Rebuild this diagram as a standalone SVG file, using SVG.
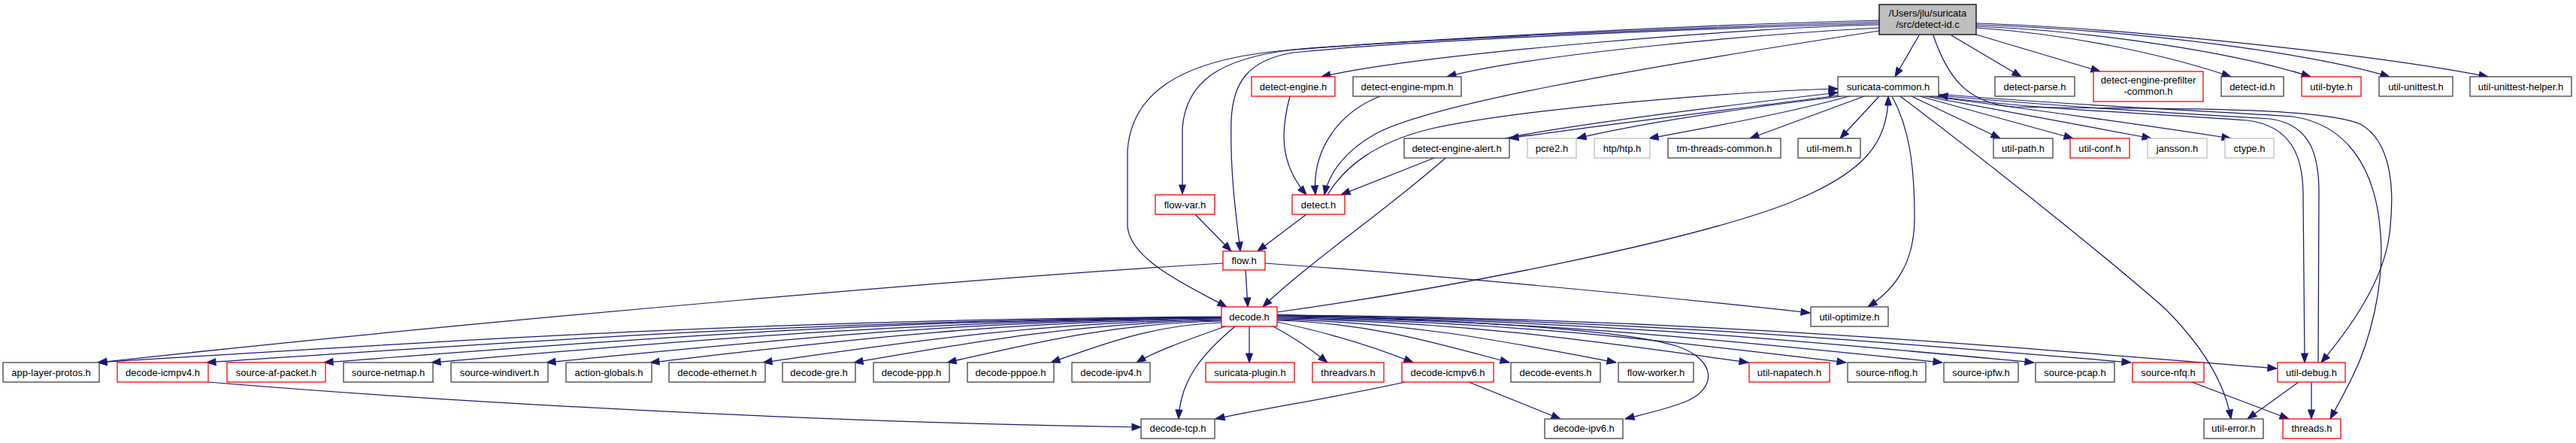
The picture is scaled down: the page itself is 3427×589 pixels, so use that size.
<svg xmlns="http://www.w3.org/2000/svg" width="3427" height="589" viewBox="0 0 3427 589">
<style>
.n rect{fill:#fff;stroke:#404040;stroke-width:1.3}
.r rect{fill:#fff;stroke:#ff0000;stroke-width:1.3}
.g rect{fill:#fff;stroke:#bfbfbf;stroke-width:1.3}
.t rect{fill:#bfbfbf;stroke:#000;stroke-width:1.3}
text{font-family:"Liberation Sans",Arial,Helvetica,sans-serif;font-size:13px;text-anchor:middle;fill:#000}
#edges path{fill:none;stroke:#191970;stroke-width:1.25;marker-end:url(#ah)}
</style>
<defs>
<marker id="ah" markerWidth="12" markerHeight="9" refX="12" refY="4.5" orient="auto" markerUnits="userSpaceOnUse" overflow="visible">
<path d="M0,0 L12,4.5 L0,9 z" fill="#191970" stroke="#191970" stroke-width="1"/>
</marker>
</defs>
<rect x="0" y="0" width="3427" height="589" fill="#fff"/>
<g id="edges">
<path d="M2553,47 L2521,102"/>
<path d="M2596,47 L2689,102"/>
<path d="M2629,46 L2794,95"/>
<path d="M2629,37 C2750,45 2880,72 2968,102"/>
<path d="M2629,35 C2800,42 2980,72 3074,102"/>
<path d="M2629,33 C2850,40 3080,72 3179,102"/>
<path d="M2629,31 C2800,36 3150,70 3310,102"/>
<path d="M2500,33 C2350,35 1900,70 1758,102"/>
<path d="M2500,37 C2350,45 2050,70 1925,102"/>
<path d="M2500,41 C2150,95 1900,140 1830,178 C1790,200 1768,230 1762,259"/>
<path d="M2500,27 C2200,35 1850,55 1700,68 C1560,82 1505,130 1500,200 L1500,300 C1502,345 1580,380 1632,408"/>
<path d="M2500,29 C2200,38 1850,55 1720,66 C1620,78 1578,110 1573,170 L1573,258"/>
<path d="M2500,31 C2200,40 1850,56 1720,70 C1660,80 1640,110 1638,160 C1636,230 1645,290 1650,334"/>
<path d="M2572,47 C2590,100 2615,138 2680,142 C2850,146 3080,140 3140,165 C3185,190 3184,260 3180,300 C3176,360 3140,420 3088,482"/>
<path d="M2445,127 C2300,146 2100,170 2008,184"/>
<path d="M2002,184 C2100,164 2300,140 2445,123"/>
<path d="M2450,128 C2350,140 2200,160 2098,184"/>
<path d="M2460,128 C2380,150 2280,168 2194,184"/>
<path d="M2480,128 L2328,184"/>
<path d="M2500,128 L2448,184"/>
<path d="M2543,128 L2661,184"/>
<path d="M2554,128 L2758,184"/>
<path d="M2561,128 C2650,145 2780,168 2862,184"/>
<path d="M2568,128 C2700,145 2850,166 2968,184"/>
<path d="M2576,128 C2700,145 2850,150 2990,160 C3050,168 3064,210 3064,260 L3066,482"/>
<path d="M3084,482 L3085,255 C3085,200 3070,165 3020,158 C2880,150 2700,138 2579,127"/>
<path d="M2578,125 C2750,140 2950,148 3050,155 C3120,165 3158,220 3166,300 C3175,380 3150,460 3130,500 C3118,525 3108,542 3100,557"/>
<path d="M2517,128 C2540,170 2547,220 2547,290 C2547,345 2525,382 2485,408"/>
<path d="M2528,128 C2650,220 2800,340 2880,410 C2930,460 2960,510 2968,557"/>
<path d="M1699,415 C1950,380 2250,320 2380,270 C2480,230 2512,190 2512,128"/>
<path d="M1766,259 C1790,220 1830,190 1900,172 C2020,145 2300,122 2445,118"/>
<path d="M1716,128 C1705,170 1700,215 1738,259"/>
<path d="M1836,128 C1780,150 1745,200 1750,259"/>
<path d="M1908,210 L1784,259"/>
<path d="M1923,210 C1850,275 1740,350 1680,408"/>
<path d="M1590,285 L1638,334"/>
<path d="M1738,285 L1673,334"/>
<path d="M1657,359 L1660,408"/>
<path d="M1627,350 C1350,366 700,420 130,482"/>
<path d="M1683,350 C1900,365 2200,393 2408,416"/>
<path d="M1625,421 C1027,424 578,454 130,482"/>
<path d="M1625,422 C1085,425 680,455 275,482"/>
<path d="M1625,422 C1147,425 789,455 431,482"/>
<path d="M1625,423 C1205,426 889,455 574,482"/>
<path d="M1625,423 C1266,426 996,456 727,482"/>
<path d="M1625,424 C1321,427 1093,456 865,482"/>
<path d="M1625,425 C1381,428 1198,456 1015,482"/>
<path d="M1625,426 C1429,429 1283,457 1136,482"/>
<path d="M1625,427 C1479,430 1370,457 1260,482"/>
<path d="M1625,429 C1534,432 1466,458 1398,482"/>
<path d="M1630,434 C1600,445 1540,465 1512,482"/>
<path d="M1662,434 L1662,482"/>
<path d="M1643,434 C1600,470 1570,505 1568,557"/>
<path d="M1694,434 C1720,448 1745,465 1766,482"/>
<path d="M1699,428 C1770,443 1830,462 1880,482"/>
<path d="M1699,426 C1822,429 1914,457 2008,482"/>
<path d="M1699,425 C1878,428 2012,456 2150,482"/>
<path d="M1699,424 C1950,427 2138,456 2326,482"/>
<path d="M1699,423 C2002,426 2229,455 2456,482"/>
<path d="M1699,422 C2053,425 2318,455 2584,482"/>
<path d="M1699,421 C2102,424 2404,454 2706,482"/>
<path d="M1699,420 C2153,423 2494,454 2835,482"/>
<path d="M1699,419 C2231,422 2630,458 3029,490"/>
<path d="M1699,418 C1900,425 2150,435 2230,460 C2285,478 2285,518 2240,535 C2210,546 2185,551 2162,557"/>
<path d="M277,508 C600,535 1100,562 1518,568"/>
<path d="M1869,508 C1780,528 1680,543 1617,557"/>
<path d="M1954,508 L2076,557"/>
<path d="M2916,508 L3045,557"/>
<path d="M3058,508 L2990,557"/>
<path d="M3075,508 L3075,557"/>
</g>
<g id="n-detect-id-c" class="t"><rect x="2500" y="6" width="129" height="40"/><text x="2564.5" y="22">/Users/jlu/suricata</text><text x="2564.5" y="37">/src/detect-id.c</text></g>
<g id="n-detect-engine" class="r"><rect x="1665" y="102" width="111" height="26"/><text x="1720.5" y="119.5">detect-engine.h</text></g>
<g id="n-detect-engine-mpm" class="n"><rect x="1800" y="102" width="144" height="26"/><text x="1872" y="119.5">detect-engine-mpm.h</text></g>
<g id="n-suricata-common" class="n"><rect x="2445" y="102" width="134" height="26"/><text x="2512" y="119.5">suricata-common.h</text></g>
<g id="n-detect-parse" class="n"><rect x="2654" y="102" width="106" height="26"/><text x="2707" y="119.5">detect-parse.h</text></g>
<g id="n-prefilter" class="r"><rect x="2785" y="95" width="146" height="40"/><text x="2858" y="111">detect-engine-prefilter</text><text x="2858" y="126">-common.h</text></g>
<g id="n-detect-id-h" class="n"><rect x="2955" y="102" width="83" height="26"/><text x="2996.5" y="119.5">detect-id.h</text></g>
<g id="n-util-byte" class="r"><rect x="3062" y="102" width="79" height="26"/><text x="3101.5" y="119.5">util-byte.h</text></g>
<g id="n-util-unittest" class="n"><rect x="3165" y="102" width="98" height="26"/><text x="3214" y="119.5">util-unittest.h</text></g>
<g id="n-util-unittest-helper" class="n"><rect x="3286" y="102" width="135" height="26"/><text x="3353.5" y="119.5">util-unittest-helper.h</text></g>
<g id="n-detect-engine-alert" class="n"><rect x="1868" y="184" width="140" height="26"/><text x="1938" y="201.5">detect-engine-alert.h</text></g>
<g id="n-pcre2" class="g"><rect x="2032" y="184" width="65" height="26"/><text x="2064.5" y="201.5">pcre2.h</text></g>
<g id="n-htp" class="g"><rect x="2121" y="184" width="74" height="26"/><text x="2158" y="201.5">htp/htp.h</text></g>
<g id="n-tm-threads-common" class="n"><rect x="2219" y="184" width="150" height="26"/><text x="2294" y="201.5">tm-threads-common.h</text></g>
<g id="n-util-mem" class="n"><rect x="2392" y="184" width="83" height="26"/><text x="2433.5" y="201.5">util-mem.h</text></g>
<g id="n-util-path" class="n"><rect x="2652" y="184" width="79" height="26"/><text x="2691.5" y="201.5">util-path.h</text></g>
<g id="n-util-conf" class="r"><rect x="2754" y="184" width="79" height="26"/><text x="2793.5" y="201.5">util-conf.h</text></g>
<g id="n-jansson" class="g"><rect x="2857" y="184" width="79" height="26"/><text x="2896.5" y="201.5">jansson.h</text></g>
<g id="n-ctype" class="g"><rect x="2960" y="184" width="65" height="26"/><text x="2992.5" y="201.5">ctype.h</text></g>
<g id="n-flow-var" class="r"><rect x="1537" y="259" width="79" height="26"/><text x="1576.5" y="276.5">flow-var.h</text></g>
<g id="n-detect-h" class="r"><rect x="1719" y="259" width="70" height="26"/><text x="1754" y="276.5">detect.h</text></g>
<g id="n-flow" class="r"><rect x="1627" y="334" width="56" height="25"/><text x="1655" y="351">flow.h</text></g>
<g id="n-decode" class="r"><rect x="1625" y="408" width="74" height="26"/><text x="1662" y="425.5">decode.h</text></g>
<g id="n-util-optimize" class="n"><rect x="2409" y="408" width="103" height="26"/><text x="2460.5" y="425.5">util-optimize.h</text></g>
<g id="n-app-layer-protos" class="n"><rect x="4" y="482" width="128" height="26"/><text x="68" y="499.5">app-layer-protos.h</text></g>
<g id="n-decode-icmpv4" class="r"><rect x="156" y="482" width="121" height="26"/><text x="216.5" y="499.5">decode-icmpv4.h</text></g>
<g id="n-source-af-packet" class="r"><rect x="302" y="482" width="131" height="26"/><text x="367.5" y="499.5">source-af-packet.h</text></g>
<g id="n-source-netmap" class="n"><rect x="457" y="482" width="119" height="26"/><text x="516.5" y="499.5">source-netmap.h</text></g>
<g id="n-source-windivert" class="n"><rect x="600" y="482" width="129" height="26"/><text x="664.5" y="499.5">source-windivert.h</text></g>
<g id="n-action-globals" class="n"><rect x="753" y="482" width="114" height="26"/><text x="810" y="499.5">action-globals.h</text></g>
<g id="n-decode-ethernet" class="n"><rect x="890" y="482" width="128" height="26"/><text x="954" y="499.5">decode-ethernet.h</text></g>
<g id="n-decode-gre" class="n"><rect x="1041" y="482" width="97" height="26"/><text x="1089.5" y="499.5">decode-gre.h</text></g>
<g id="n-decode-ppp" class="n"><rect x="1162" y="482" width="101" height="26"/><text x="1212.5" y="499.5">decode-ppp.h</text></g>
<g id="n-decode-pppoe" class="n"><rect x="1287" y="482" width="115" height="26"/><text x="1344.5" y="499.5">decode-pppoe.h</text></g>
<g id="n-decode-ipv4" class="n"><rect x="1426" y="482" width="104" height="26"/><text x="1478" y="499.5">decode-ipv4.h</text></g>
<g id="n-suricata-plugin" class="r"><rect x="1604" y="482" width="118" height="26"/><text x="1663" y="499.5">suricata-plugin.h</text></g>
<g id="n-threadvars" class="r"><rect x="1746" y="482" width="95" height="26"/><text x="1793.5" y="499.5">threadvars.h</text></g>
<g id="n-decode-icmpv6" class="r"><rect x="1865" y="482" width="122" height="26"/><text x="1926" y="499.5">decode-icmpv6.h</text></g>
<g id="n-decode-events" class="n"><rect x="2010" y="482" width="119" height="26"/><text x="2069.5" y="499.5">decode-events.h</text></g>
<g id="n-flow-worker" class="n"><rect x="2153" y="482" width="100" height="26"/><text x="2203" y="499.5">flow-worker.h</text></g>
<g id="n-util-napatech" class="r"><rect x="2327" y="482" width="107" height="26"/><text x="2380.5" y="499.5">util-napatech.h</text></g>
<g id="n-source-nflog" class="n"><rect x="2458" y="482" width="104" height="26"/><text x="2510" y="499.5">source-nflog.h</text></g>
<g id="n-source-ipfw" class="n"><rect x="2586" y="482" width="99" height="26"/><text x="2635.5" y="499.5">source-ipfw.h</text></g>
<g id="n-source-pcap" class="n"><rect x="2708" y="482" width="105" height="26"/><text x="2760.5" y="499.5">source-pcap.h</text></g>
<g id="n-source-nfq" class="r"><rect x="2837" y="482" width="95" height="26"/><text x="2884.5" y="499.5">source-nfq.h</text></g>
<g id="n-util-debug" class="r"><rect x="3030" y="482" width="90" height="26"/><text x="3075" y="499.5">util-debug.h</text></g>
<g id="n-decode-tcp" class="n"><rect x="1518" y="557" width="98" height="26"/><text x="1567" y="574">decode-tcp.h</text></g>
<g id="n-decode-ipv6" class="n"><rect x="2055" y="557" width="104" height="26"/><text x="2107" y="574">decode-ipv6.h</text></g>
<g id="n-util-error" class="n"><rect x="2932" y="557" width="79" height="26"/><text x="2971.5" y="574">util-error.h</text></g>
<g id="n-threads" class="r"><rect x="3037" y="557" width="77" height="26"/><text x="3075.5" y="574">threads.h</text></g>
</svg>
